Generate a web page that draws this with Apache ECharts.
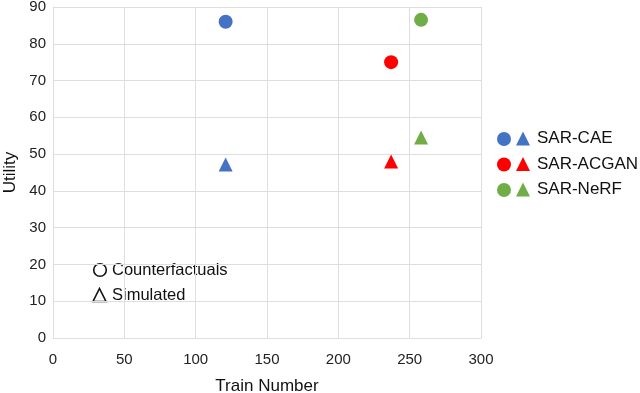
<!DOCTYPE html>
<html>
<head>
<meta charset="utf-8">
<script src="https://cdn.jsdelivr.net/npm/echarts@6/dist/echarts.min.js"></script>
<style>
  html, body { margin: 0; padding: 0; background: #fff; }
  #chart { width: 640px; height: 393px; }
</style>
</head>
<body>
<div id="chart"></div>
<script>
// values
var models = ["SAR-CAE", "SAR-ACGAN", "SAR-NeRF"];
var trainNumber = [121, 237, 258];
var counterfactualUtility = [86, 75, 86.5];
var simulatedUtility = [47.2, 48, 54.5];
var xTicks = [0, 50, 100, 150, 200, 250, 300];
var yTicks = [0, 10, 20, 30, 40, 50, 60, 70, 80, 90];

var palette = ["#4472C4", "#FF0000", "#70AD47"];
var font = "Liberation Sans, Arial, sans-serif";
var gridColor = "#dedede";

var chart = echarts.init(document.getElementById("chart"));

var series = [];
//circle = counterfactuals, triangle = simulated
models.forEach(function (m, i) {
  series.push({
    name: m + " (c)",
    type: "scatter",
    symbol: "circle",
    symbolSize: 14,
    itemStyle: { color: palette[i], opacity: 1 },
    data: [[trainNumber[i], counterfactualUtility[i]]],
  });
  series.push({
    name: m,
    type: "scatter",
    symbol: "triangle",
    symbolSize: 14,
    itemStyle: { color: palette[i], opacity: 1 },
    data: [[trainNumber[i], simulatedUtility[i]]],
  });
});

chart.setOption({
  animation: false,
  textStyle: { fontFamily: font },
  grid: { left: 53, top: 7, width: 428, height: 331, outerBoundsMode: "none", containLabel: false },
  xAxis: {
    type: "value",
    min: xTicks[0],
    max: xTicks[xTicks.length - 1],
    interval: 50,
    name: "Train Number",
    nameLocation: "middle",
    nameGap: 40,
    nameTextStyle: { fontSize: 17, color: "#111", fontFamily: font },
    axisLine: { show: true, lineStyle: { color: gridColor } },
    axisTick: { show: false },
    axisLabel: { fontSize: 15, color: "#222", margin: 14, fontFamily: font },
    splitLine: { show: true, lineStyle: { color: gridColor } },
  },
  yAxis: {
    type: "value",
    min: yTicks[0],
    max: yTicks[yTicks.length - 1],
    interval: 10,
    name: "Utility",
    nameLocation: "middle",
    nameGap: 25,
    nameTextStyle: { fontSize: 17, color: "#111", fontFamily: font },
    axisLine: { show: true, lineStyle: { color: gridColor } },
    axisTick: { show: false },
    axisLabel: { fontSize: 15, color: "#222", margin: 7, fontFamily: font },
    splitLine: { show: true, lineStyle: { color: gridColor } },
  },
  legend: [
    {
      orient: "vertical",
      left: 497,
      top: 132,
      padding: 0,
      icon: "circle",
      itemWidth: 14,
      itemHeight: 14,
      itemGap: 11.5,
      selectedMode: false,
      formatter: function () { return ""; },
      textStyle: { lineHeight: 14, fontSize: 17 },
      data: models.map(function (m) { return m + " (c)"; }),
    },
    {
      orient: "vertical",
      left: 516,
      top: 130,
      padding: 0,
      icon: "triangle",
      itemWidth: 14,
      itemHeight: 14,
      itemGap: 8.5,
      selectedMode: false,
      textStyle: { fontSize: 17, color: "#111", fontFamily: font, padding: [0, 0, 0, 2] },
      data: models,
    },
  ],
  graphic: [
    {
      type: "group",
      z: 100,
      children: [
        {
          type: "circle",
          shape: { cx: 100, cy: 270, r: 6.3 },
          style: { fill: "none", stroke: "#111", lineWidth: 1.6 },
        },
        {
          type: "text",
          x: 112,
          y: 270,
          style: { text: "Counterfactuals", fontSize: 16.5, fill: "#111", fontFamily: font, verticalAlign: "middle" },
        },
        {
          type: "polygon",
          shape: { points: [[99.5, 288.5], [106, 301.5], [93, 301.5]] },
          style: { fill: "none", stroke: "#111", lineWidth: 1.6 },
        },
        {
          type: "text",
          x: 112,
          y: 295,
          style: { text: "Simulated", fontSize: 16.5, fill: "#111", fontFamily: font, verticalAlign: "middle" },
        },
      ],
    },
  ],
  series: series,
});
</script>
</body>
</html>
